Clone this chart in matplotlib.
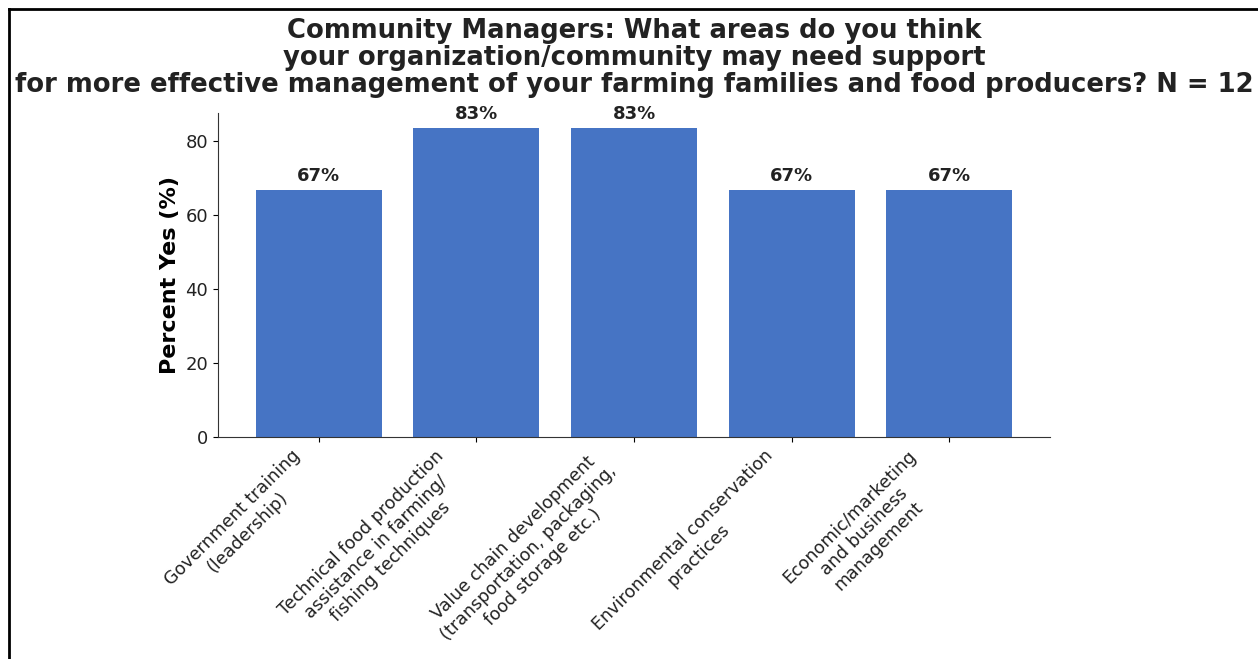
import matplotlib
matplotlib.use("Agg")
import matplotlib.pyplot as plt
from matplotlib.lines import Line2D

categories = [
    "Government training\n(leadership)",
    "Technical food production\nassistance in farming/\nfishing techniques",
    "Value chain development\n(transportation, packaging,\nfood storage etc.)",
    "Environmental conservation\npractices",
    "Economic/marketing\nand business\nmanagement",
]
percent_yes = [66.67, 83.33, 83.33, 66.67, 66.67]
bar_labels = ["67%", "83%", "83%", "67%", "67%"]

title = ("Community Managers: What areas do you think\n"
         "your organization/community may need support\n"
         "for more effective management of your farming families and food producers? N = 12")

W, H = 1258, 659
fig = plt.figure(figsize=(W / 100, H / 100), dpi=100)
ax = fig.add_axes([218 / W, 1 - 437 / H, (1050 - 218) / W, (437 - 113) / H])

x = range(len(categories))
bars = ax.bar(x, percent_yes, width=0.8, color="#4674C4")
for rect, lab in zip(bars, bar_labels):
    ax.annotate(lab, (rect.get_x() + rect.get_width() / 2, rect.get_height()),
                xytext=(0, 4), textcoords="offset points",
                ha="center", va="bottom", fontsize=13, fontweight="bold",
                color="#222222")

ax.set_xticks(list(x))
ax.set_xticklabels(categories, rotation=45, ha="right", multialignment="center",
                   fontsize=12.6, color="#222222")
ax.set_yticks([0, 20, 40, 60, 80])
ax.tick_params(axis="y", labelsize=13, labelcolor="#222222")
ax.set_ylabel("Percent Yes (%)", fontsize=16, fontweight="bold")
ax.set_title(title, fontsize=18.6, fontweight="bold", pad=15, linespacing=1.05,
             color="#222222")

for side in ("top", "right"):
    ax.spines[side].set_visible(False)
for side in ("left", "bottom"):
    ax.spines[side].set_color("#333333")

# outer frame lines along the top and left edges
fig.add_artist(Line2D([9 / W, 1], [1 - 9 / H, 1 - 9 / H], transform=fig.transFigure,
                      color="black", lw=2))
fig.add_artist(Line2D([9 / W, 9 / W], [0, 1 - 9 / H], transform=fig.transFigure,
                      color="black", lw=2))

fig.savefig("out.png", dpi=100)
